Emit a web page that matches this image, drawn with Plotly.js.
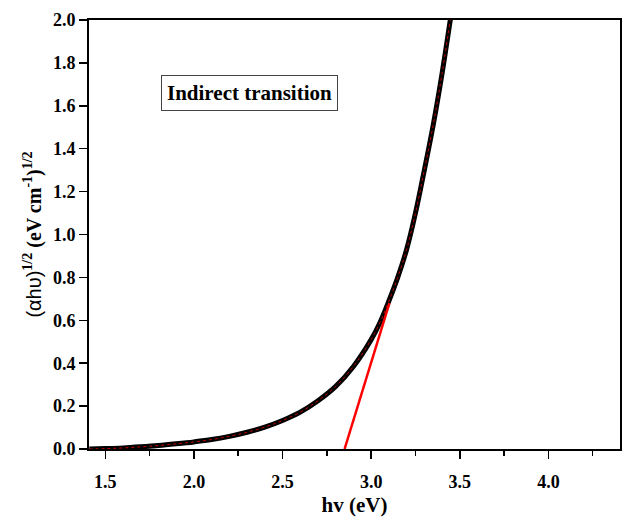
<!DOCTYPE html>
<html>
<head>
<meta charset="utf-8">
<script src="https://cdn.plot.ly/plotly-3.0.1.min.js"></script>
<style>html,body{margin:0;padding:0;background:#fff;}#chart{width:622px;height:517px;}</style>
</head>
<body>
<div id="chart"></div>
<script>
// Photon energy hv (eV) and (αhυ)^1/2 values
const energy = [1.41,1.5,1.6,1.7,1.8,1.9,2.0,2.1,2.2,2.3,2.4,2.5,2.6,2.7,2.8,2.9,3.0,3.05,3.1,3.15,3.2,3.25,3.3,3.35,3.4,3.45,3.47];
const alphaHv = [0.000,0.002,0.005,0.010,0.016,0.024,0.033,0.044,0.059,0.078,0.102,0.133,0.172,0.225,0.292,0.385,0.510,0.590,0.690,0.800,0.930,1.100,1.300,1.510,1.750,2.020,2.130];
// Tangent (Tauc extrapolation) line end points
const fitX = [2.85, 3.103];
const fitY = [0.0, 0.68];
const annotationText = "Indirect transition";

const serif = "Liberation Serif, Times New Roman, serif";

const traces = [
  {x: energy, y: alphaHv, mode: 'lines', line: {color: '#000', width: 5, shape: 'spline', smoothing: 1}, hoverinfo: 'skip'},
  {x: energy, y: alphaHv, mode: 'lines', line: {color: '#c00000', width: 1, dash: 'dot', shape: 'spline', smoothing: 1}, hoverinfo: 'skip'},
  {x: fitX, y: fitY, mode: 'lines', line: {color: '#ff0000', width: 2.5}, hoverinfo: 'skip'}
];

const axisCommon = {
  showline: true, linecolor: '#000', linewidth: 2, mirror: true,
  ticks: 'outside', ticklen: 8, tickwidth: 1.5, tickcolor: '#000',
  showgrid: false, zeroline: false,
  tickfont: {family: serif, size: 18, color: '#000', weight: 'bold'}
};

const layout = {
  width: 622, height: 517,
  margin: {l: 89, r: 2, t: 20, b: 68},
  paper_bgcolor: '#fff', plot_bgcolor: '#fff',
  showlegend: false,
  xaxis: Object.assign({}, axisCommon, {
    range: [1.408, 4.404], tickvals: [1.5, 2.0, 2.5, 3.0, 3.5, 4.0], ticktext: ['1.5','2.0','2.5','3.0','3.5','4.0'],
    ticklabelstandoff: 7,
    minor: {tickvals: [1.75, 2.25, 2.75, 3.25, 3.75, 4.25], ticks: 'outside', ticklen: 5, tickwidth: 1.5, tickcolor: '#000'},
    title: {text: 'hv (eV)', font: {family: serif, size: 21, color: '#000', weight: 'bold'}, standoff: 8}
  }),
  yaxis: Object.assign({}, axisCommon, {
    range: [0, 2.0], tickvals: [0,0.2,0.4,0.6,0.8,1.0,1.2,1.4,1.6,1.8,2.0],
    ticktext: ['0.0','0.2','0.4','0.6','0.8','1.0','1.2','1.4','1.6','1.8','2.0'],
    title: {text: '<span style="font-family:Liberation Sans, Arial, sans-serif;font-weight:normal">(αhυ)</span><sup>1/2</sup> (eV cm<sup>-1</sup>)<sup>1/2</sup>',
      font: {family: serif, size: 20, color: '#000', weight: 'bold'}, standoff: 6}
  }),
  annotations: [{
    xref: 'paper', yref: 'paper', x: 0.303, y: 0.831, xanchor: 'center', yanchor: 'middle',
    text: annotationText, showarrow: false,
    font: {family: serif, size: 21, color: '#000', weight: 'bold'},
    bordercolor: '#444', borderwidth: 1, borderpad: 5, bgcolor: '#fff'
  }]
};

Plotly.newPlot('chart', traces, layout, {staticPlot: true, displayModeBar: false});
</script>
</body>
</html>
